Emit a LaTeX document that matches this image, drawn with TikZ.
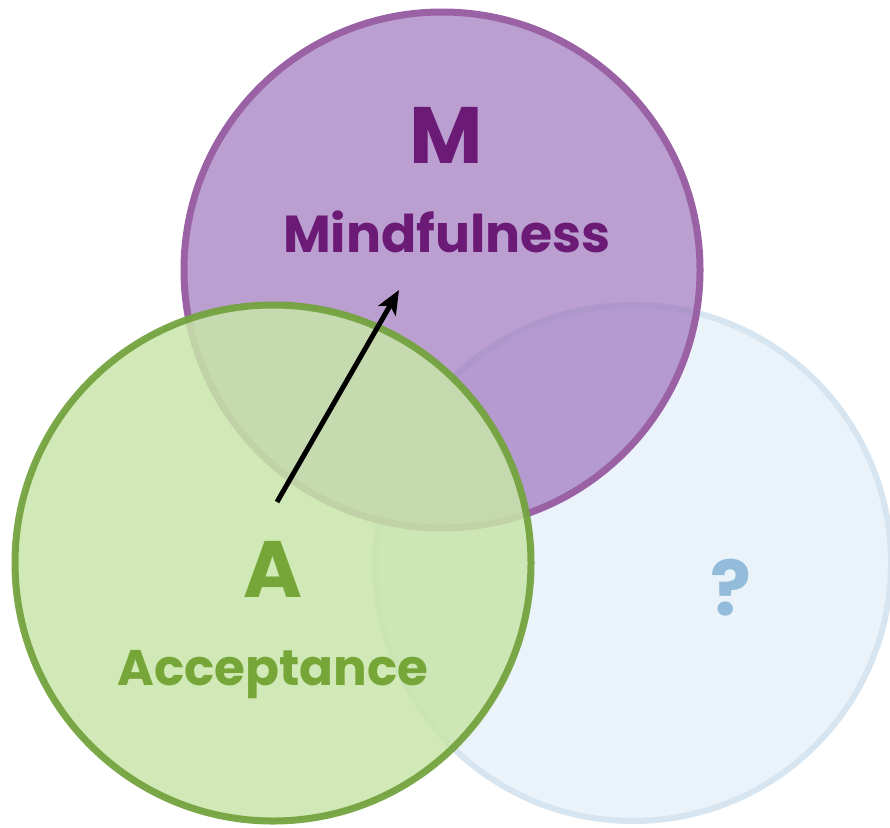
\documentclass[tikz,border=0pt]{standalone}
\usepackage{fontspec}
\setmainfont{Poppins}
\usetikzlibrary{arrows.meta}
\definecolor{pfill}{HTML}{9E76BC}
\definecolor{pline}{HTML}{9A62A5}
\definecolor{gfill}{HTML}{C8E5A9}
\definecolor{gline}{HTML}{74A33F}
\definecolor{bfill}{HTML}{EAF2FA}
\definecolor{bline}{HTML}{D6E5F0}
\definecolor{ptext}{HTML}{6B1B76}
\definecolor{gtext}{HTML}{76A637}
\definecolor{btext}{HTML}{92BCDA}
\tikzset{
  ring/.style={circle, minimum size=#1, inner sep=0pt},
  bigletter/.style={font=\fontsize{80}{80}\selectfont\bfseries, inner sep=0pt},
  word/.style={font=\fontsize{#1}{#1}\selectfont\bfseries, inner sep=0pt},
}
\begin{document}
\begin{tikzpicture}[x=1pt,y=-1pt]
\useasboundingbox (0,0) rectangle (890,827);
\node[ring=516pt, draw=bline, line width=6pt, fill=bfill] (blue) at (633,563) {};
\node[ring=516pt, draw=pline, line width=7pt, fill=pfill, fill opacity=0.7, draw opacity=1] (purple) at (442,270) {};
\node[ring=516pt, draw=gline, line width=7pt, fill=gfill, fill opacity=0.85, draw opacity=0.95] (green) at (273,563) {};
\node[bigletter, text=ptext, anchor=base] (m) at (446,163) {M};
\node[word=52, text=ptext, anchor=base] (mind) at (447,252) {Mindfulness};
\node[bigletter, text=gtext, anchor=base] (a) at (273,597) {A};
\node[word=50, text=gtext, anchor=base] (acc) at (273,685) {Acceptance};
\node[font=\fontsize{76}{76}\selectfont\bfseries, text=btext, anchor=base, inner sep=0pt] (q) at (731,615) {?};
\coordinate (s) at (277,502);
\coordinate (e) at (399,290);
\draw[line width=5pt, -{Stealth[length=24pt, width=20pt, inset=6pt]}] (s) -- (e);
\end{tikzpicture}
\end{document}
